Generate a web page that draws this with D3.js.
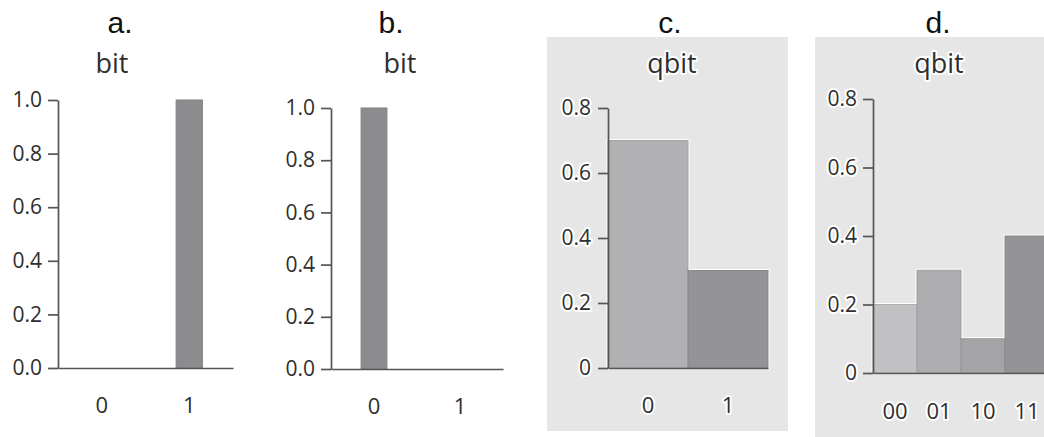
<!DOCTYPE html>
<html>
<head>
<meta charset="utf-8">
<script src="https://cdn.jsdelivr.net/npm/d3@7"></script>
<style>
  body { margin: 0; background: #fff; }
  .tick text { font-family: "Open Sans", sans-serif; fill: #2e2e2e; }
  .halo text { stroke: #fff; stroke-width: 4px; paint-order: stroke; stroke-linejoin: round; }
</style>
</head>
<body>
<script>
// data, one set per panel
const panelLetters = ["a.", "b.", "c.", "d."];
const panelTitles = ["bit", "bit", "qbit", "qbit"];

const catsA = ["0", "1"];
const valsA = [0, 1];
const catsB = ["0", "1"];
const valsB = [1, 0];
const catsC = ["0", "1"];
const valsC = [0.7, 0.3];
const catsD = ["00", "01", "10", "11"];
const valsD = [0.2, 0.3, 0.1, 0.4];

const ticksBit = [0, 0.2, 0.4, 0.6, 0.8, 1.0];
const tickLabelsBit = ["0.0", "0.2", "0.4", "0.6", "0.8", "1.0"];
const ticksQbit = [0, 0.2, 0.4, 0.6, 0.8];
const tickLabelsQbit = ["0", "0.2", "0.4", "0.6", "0.8"];

// layout constants
const w = 1044;
const h = 437;

const panels = [
  { cats: catsA, vals: valsA, ticks: ticksBit, labels: tickLabelsBit, yMax: 1,
    x0: 58, x1: 233, yBot: 368, yTop: 100, pad: 0.7, letterX: 120, titleX: 112,
    colors: ["#8c8c8e", "#8c8c8e"], bg: null, xPad: 29, tickPad: 6 },
  { cats: catsB, vals: valsB, ticks: ticksBit, labels: tickLabelsBit, yMax: 1,
    x0: 331, x1: 503, yBot: 369, yTop: 108, pad: 0.7, letterX: 391, titleX: 400,
    colors: ["#8c8c8e", "#8c8c8e"], bg: null, xPad: 29, tickPad: 6 },
  { cats: catsC, vals: valsC, ticks: ticksQbit, labels: tickLabelsQbit, yMax: 0.8,
    x0: 608, x1: 768, yBot: 368, yTop: 108, pad: 0, letterX: 670, titleX: 672,
    colors: ["#b1b1b3", "#949497"], bg: [547, 37, 788, 431], xPad: 29, tickPad: 7 },
  { cats: catsD, vals: valsD, ticks: ticksQbit, labels: tickLabelsQbit, yMax: 0.8,
    x0: 873, x1: 1049, yBot: 373, yTop: 99, pad: 0, letterX: 938, titleX: 939,
    colors: ["#c1c1c3", "#adadaf", "#a4a4a6", "#949497"], bg: [815, 37, 1060, 440], xPad: 30, tickPad: 6 }
];

const svg = d3.select("body").append("svg")
  .attr("width", w)
  .attr("height", h);

panels.forEach((p, i) => {
  const g = svg.append("g");

  // grey backing card for the qbit panels
  if (p.bg) {
    g.append("rect")
      .attr("x", p.bg[0])
      .attr("y", p.bg[1])
      .attr("width", p.bg[2] - p.bg[0])
      .attr("height", p.bg[3] - p.bg[1])
      .attr("fill", "#e6e6e6");
  }

  const xScale = d3.scaleBand()
    .domain(p.cats)
    .range([p.x0, p.x1])
    .paddingInner(p.pad)
    .paddingOuter(p.pad / 2);

  const yScale = d3.scaleLinear()
    .domain([0, p.yMax])
    .range([p.yBot, p.yTop]);

  const data = p.cats.map((c, j) => ({ cat: c, val: p.vals[j], color: p.colors[j] }));

  // white halo behind the bars (only shows on the grey card)
  if (p.bg) {
    g.selectAll("rect.halo-bar")
      .data(data.filter(d => d.val > 0))
      .enter()
      .append("rect")
      .attr("class", "halo-bar")
      .attr("x", d => xScale(d.cat))
      .attr("y", d => yScale(d.val))
      .attr("width", xScale.bandwidth())
      .attr("height", d => yScale(0) - yScale(d.val))
      .attr("fill", "none")
      .attr("stroke", "#fff")
      .attr("stroke-width", 3);
  }

  g.selectAll("rect.bar")
    .data(data.filter(d => d.val > 0))
    .enter()
    .append("rect")
    .attr("class", "bar")
    .attr("x", d => xScale(d.cat))
    .attr("y", d => yScale(d.val))
    .attr("width", xScale.bandwidth())
    .attr("height", d => yScale(0) - yScale(d.val))
    .attr("fill", d => d.color)
    .attr("stroke", d => d3.color(d.color).darker(0.25))
    .attr("stroke-width", 1);

  // y axis
  const yAxis = d3.axisLeft(yScale)
    .tickValues(p.ticks)
    .tickFormat((d, j) => p.labels[j])
    .tickSize(10)
    .tickSizeOuter(0)
    .tickPadding(p.tickPad);

  const yG = g.append("g")
    .attr("class", p.bg ? "halo" : "")
    .attr("transform", `translate(${p.x0},0)`)
    .call(yAxis);
  yG.selectAll("text").style("font-size", "21px");

  // x axis: just the base line and the category labels
  const xAxis = d3.axisBottom(xScale)
    .tickSize(0)
    .tickSizeOuter(0)
    .tickPadding(p.xPad);

  const xG = g.append("g")
    .attr("class", p.bg ? "halo" : "")
    .attr("transform", `translate(0,${p.yBot})`)
    .call(xAxis);
  xG.selectAll("text").style("font-size", "22px");

  svg.selectAll("path.domain, .tick line")
    .attr("stroke", "#555")
    .attr("stroke-width", 1.7);

  // panel letter
  svg.append("text")
    .attr("x", p.letterX)
    .attr("y", 33)
    .attr("text-anchor", "middle")
    .style("font-family", "'Liberation Sans', Arial, sans-serif")
    .style("font-size", "30px")
    .attr("fill", "#111")
    .text(panelLetters[i]);

  // panel title
  svg.append("text")
    .attr("x", p.titleX)
    .attr("y", 73)
    .attr("text-anchor", "middle")
    .style("font-family", "'Open Sans', sans-serif")
    .style("font-size", "27px")
    .attr("fill", "#2e2e2e")
    .attr("stroke", p.bg ? "#fff" : "none")
    .attr("stroke-width", 4)
    .style("paint-order", "stroke")
    .style("stroke-linejoin", "round")
    .text(panelTitles[i]);
});
</script>
</body>
</html>
